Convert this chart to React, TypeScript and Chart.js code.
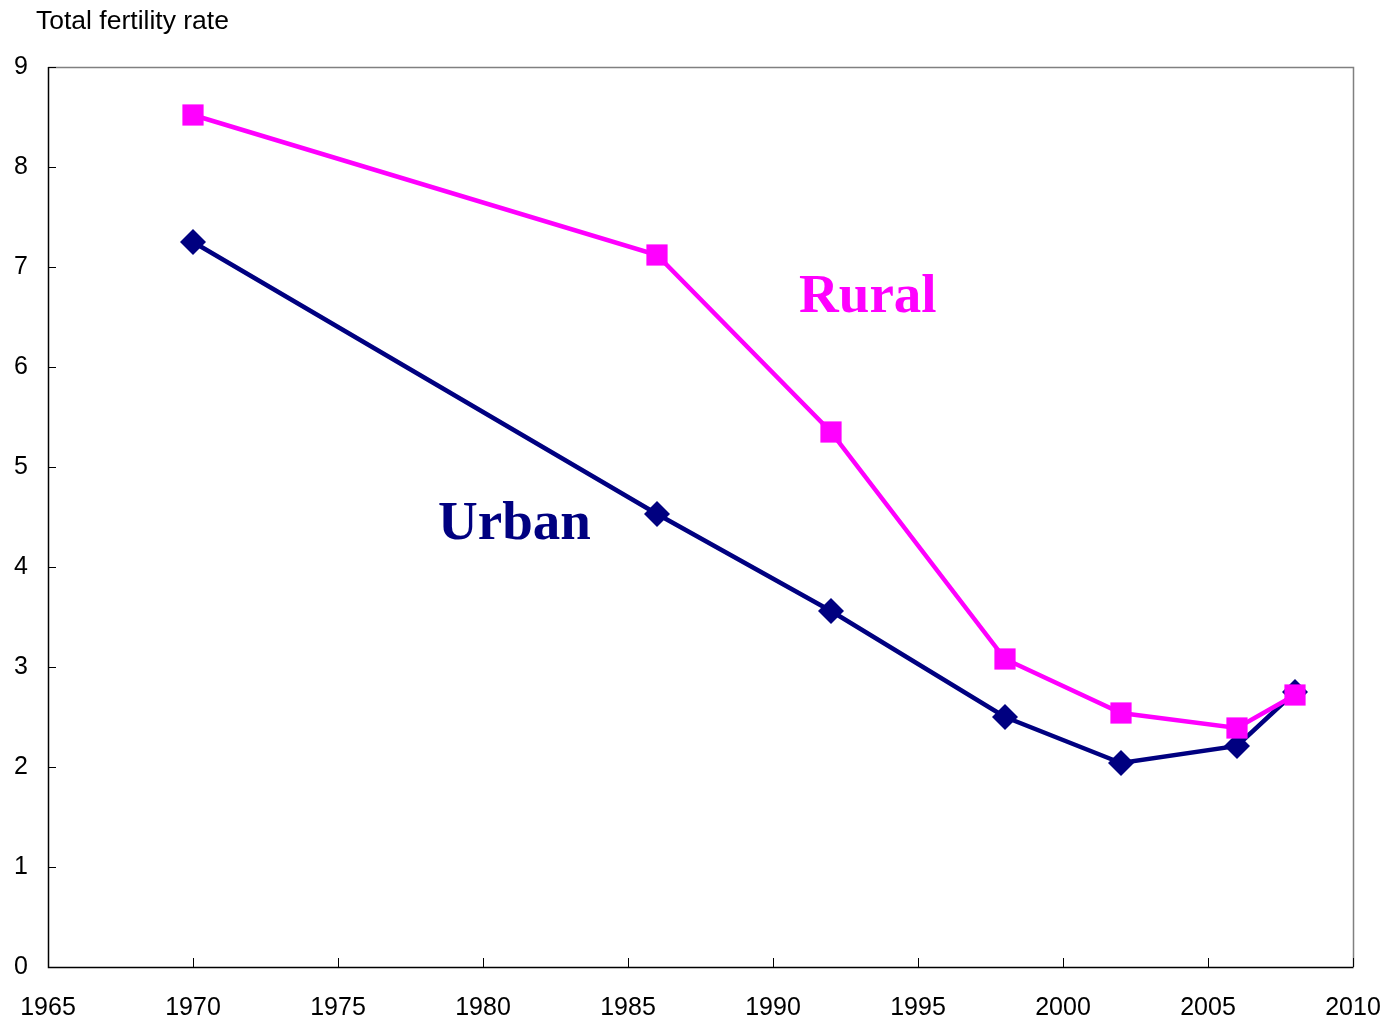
import React, { useEffect, useRef } from "react";
import { Chart, registerables } from "chart.js";

Chart.register(...registerables);

const years = [1970, 1986, 1992, 1998, 2002, 2006, 2008];
const ruralValues = [8.52, 7.12, 5.35, 3.08, 2.54, 2.39, 2.72];
const urbanValues = [7.25, 4.53, 3.56, 2.5, 2.04, 2.21, 2.75];
const xTicks = [1965, 1970, 1975, 1980, 1985, 1990, 1995, 2000, 2005, 2010];
const yTicks = [0, 1, 2, 3, 4, 5, 6, 7, 8, 9];
const yTitle = "Total fertility rate";
const ruralLabel = "Rural";
const urbanLabel = "Urban";

const RURAL = "#FF00FF";
const URBAN = "#000080";

const decorPlugin = {
  id: "decor",
  beforeDatasetsDraw(chart: any) {
    const { ctx, chartArea: a, scales } = chart;
    ctx.save();
    ctx.strokeStyle = "#808080";
    ctx.lineWidth = 1.5;
    ctx.beginPath();
    ctx.moveTo(a.left, a.top + 0.5);
    ctx.lineTo(a.right + 0.5, a.top + 0.5);
    ctx.lineTo(a.right + 0.5, a.bottom);
    ctx.stroke();
    ctx.strokeStyle = "#000000";
    ctx.lineWidth = 1.5;
    ctx.beginPath();
    ctx.moveTo(a.left + 0.5, a.top);
    ctx.lineTo(a.left + 0.5, a.bottom + 0.5);
    ctx.lineTo(a.right + 0.5, a.bottom + 0.5);
    ctx.stroke();
    ctx.lineWidth = 1;
    ctx.beginPath();
    for (const v of yTicks) {
      const y = Math.round(scales.y.getPixelForValue(v)) + 0.5;
      ctx.moveTo(a.left, y);
      ctx.lineTo(a.left + 8, y);
    }
    for (const v of xTicks) {
      const x = Math.round(scales.x.getPixelForValue(v)) + 0.5;
      ctx.moveTo(x, a.bottom);
      ctx.lineTo(x, a.bottom - 9);
    }
    ctx.stroke();
    ctx.restore();
  },
  afterDatasetsDraw(chart: any) {
    const { ctx, scales } = chart;
    ctx.save();
    ctx.font = "bold 55px 'Liberation Serif', 'Times New Roman', serif";
    ctx.textBaseline = "middle";
    ctx.textAlign = "left";
    ctx.fillStyle = RURAL;
    ctx.fillText(ruralLabel, scales.x.getPixelForValue(1990.9), scales.y.getPixelForValue(6.69));
    ctx.fillStyle = URBAN;
    ctx.fillText(urbanLabel, scales.x.getPixelForValue(1978.45), scales.y.getPixelForValue(4.42));
    ctx.font = "26.5px 'Liberation Sans', Arial, sans-serif";
    ctx.fillStyle = "#000000";
    ctx.textBaseline = "middle";
    ctx.fillText(yTitle, 36, 22);
    ctx.restore();
  },
};

export default function App() {
  const ref = useRef<HTMLCanvasElement | null>(null);
  useEffect(() => {
    if (!ref.current) return;
    const chart = new Chart(ref.current, {
      type: "line",
      data: {
        datasets: [
          {
            label: ruralLabel,
            data: years.map((x, i) => ({ x, y: ruralValues[i] })),
            borderColor: RURAL,
            backgroundColor: RURAL,
            borderWidth: 4.5,
            pointStyle: "rect",
            pointRadius: 15,
            pointBorderWidth: 0,
            tension: 0,
          },
          {
            label: urbanLabel,
            data: years.map((x, i) => ({ x, y: urbanValues[i] })),
            borderColor: URBAN,
            backgroundColor: URBAN,
            borderWidth: 4.5,
            pointStyle: "rectRot",
            pointRadius: 13,
            pointBorderWidth: 0,
            tension: 0,
          },
        ],
      },
      options: {
        responsive: false,
        animation: false,
        layout: { padding: { left: 0, right: 31, top: 67, bottom: 0 } },
        plugins: { legend: { display: false }, tooltip: { enabled: false } },
        scales: {
          x: {
            type: "linear",
            min: 1965,
            max: 2010,
            afterBuildTicks: (s: any) => {
              s.ticks = xTicks.map((v) => ({ value: v }));
            },
            afterFit: (s: any) => {
              s.height = 51;
              s.paddingLeft = 0;
              s.paddingRight = 0;
            },
            grid: { display: false, drawTicks: false },
            border: { display: false },
            ticks: {
              padding: 26,
              color: "#000000",
              maxRotation: 0,
              autoSkip: false,
              font: { family: "'Liberation Sans', Arial, sans-serif", size: 25 },
              callback: (v: any) => String(v),
            },
          },
          y: {
            min: 0,
            max: 9,
            afterBuildTicks: (s: any) => {
              s.ticks = yTicks.map((v) => ({ value: v }));
            },
            afterFit: (s: any) => {
              s.width = 48;
              s.paddingTop = 0;
              s.paddingBottom = 0;
            },
            grid: { display: false, drawTicks: false },
            border: { display: false },
            ticks: {
              padding: 20,
              color: "#000000",
              font: { family: "'Liberation Sans', Arial, sans-serif", size: 25 },
            },
          },
        },
      },
      plugins: [decorPlugin],
    } as any);
    return () => chart.destroy();
  }, []);
  return (
    <canvas
      ref={ref}
      width={1384}
      height={1018}
      style={{ position: "fixed", left: 0, top: 0, width: 1384, height: 1018, background: "#fff" }}
    />
  );
}
